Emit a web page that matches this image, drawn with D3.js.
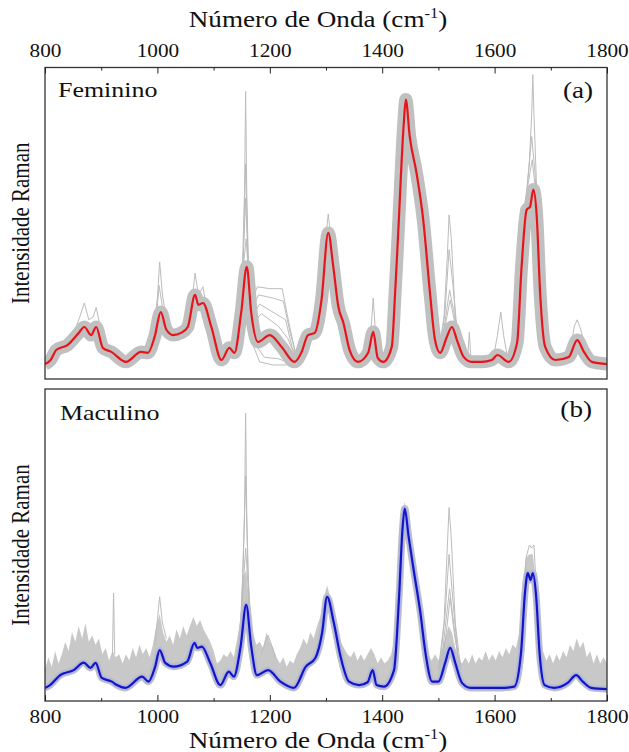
<!DOCTYPE html>
<html>
<head>
<meta charset="utf-8">
<script src="https://cdn.jsdelivr.net/npm/d3@7"></script>
<style>
  body { margin: 0; background: #fff; }
  svg { display: block; }
  text { font-family: "Liberation Serif", "Times New Roman", serif; fill: #111; }
</style>
</head>
<body>
<script>
// ---- dados (intensidade normalizada, 0 = base do painel, 1 = topo) ----

// eixo x
const majorTicks = [800, 1000, 1200, 1400, 1600, 1800];
const minorTicks = [900, 1100, 1300, 1500, 1700];

// Feminino: espectro médio (vermelho)
const wnF = [800, 810, 820, 840, 860, 870, 882, 891, 903, 918, 944, 971, 983, 995, 1006, 1016, 1028, 1042, 1054, 1067,
    1073, 1081, 1096, 1114, 1128, 1137, 1149, 1159, 1167, 1179, 1200, 1221, 1244, 1256, 1268, 1280, 1292, 1304, 1313, 1322,
    1331, 1342, 1357, 1375, 1384, 1392, 1402, 1417, 1423, 1429, 1438, 1442, 1449, 1461, 1473, 1485, 1494, 1503, 1515, 1524,
    1533, 1545, 1559, 1577, 1595, 1605, 1625, 1640, 1648, 1657, 1663, 1669, 1675, 1681, 1690, 1708, 1732, 1747, 1759, 1773, 1800];
const meanF = [0.048, 0.061, 0.093, 0.109, 0.148, 0.167, 0.141, 0.167, 0.100, 0.087, 0.055, 0.087, 0.084, 0.135, 0.215, 0.158, 0.141, 0.148, 0.167, 0.270,
    0.238, 0.244, 0.167, 0.061, 0.100, 0.084, 0.212, 0.360, 0.212, 0.119, 0.141, 0.103, 0.055, 0.084, 0.141, 0.148, 0.254, 0.469, 0.360, 0.232,
    0.180, 0.093, 0.055, 0.084, 0.151, 0.068, 0.055, 0.103, 0.277, 0.489, 0.810, 0.897, 0.778, 0.662, 0.511, 0.277, 0.125, 0.084, 0.135, 0.167,
    0.125, 0.071, 0.055, 0.055, 0.061, 0.077, 0.055, 0.116, 0.360, 0.543, 0.553, 0.608, 0.521, 0.277, 0.103, 0.061, 0.071, 0.125, 0.087, 0.055, 0.048];

// Feminino: espectros individuais que se afastam da faixa cinza
const grayF = [
    [[850, 0.14], [862, 0.20], [870, 0.244], [878, 0.19], [886, 0.20], [891, 0.23], [898, 0.17], [906, 0.12]],
    [[994, 0.16], [1000, 0.26], [1004, 0.376], [1009, 0.27], [1016, 0.19]],
    [[996, 0.15], [1003, 0.30], [1010, 0.22], [1018, 0.17]],
    [[1055, 0.19], [1062, 0.26], [1067, 0.34], [1073, 0.27], [1081, 0.296], [1088, 0.22], [1096, 0.18]],
    [[1143, 0.13], [1150, 0.26], [1155, 0.60], [1157, 0.923], [1159, 0.60], [1163, 0.28], [1170, 0.17]],
    [[1145, 0.15], [1152, 0.35], [1157, 0.69], [1161, 0.40], [1167, 0.20]],
    [[1146, 0.17], [1153, 0.40], [1157, 0.58], [1162, 0.35], [1168, 0.22]],
    [[1147, 0.20], [1154, 0.38], [1158, 0.45], [1163, 0.30], [1169, 0.24]],
    [[1165, 0.24], [1178, 0.296], [1200, 0.29], [1222, 0.29], [1234, 0.18], [1246, 0.08]],
    [[1167, 0.22], [1180, 0.27], [1205, 0.26], [1224, 0.25], [1236, 0.15], [1248, 0.07]],
    [[1168, 0.20], [1182, 0.24], [1210, 0.21], [1228, 0.19], [1240, 0.10], [1250, 0.07]],
    [[1170, 0.18], [1185, 0.21], [1215, 0.17], [1232, 0.13], [1246, 0.07]],
    [[1162, 0.20], [1172, 0.10], [1182, 0.055], [1205, 0.045], [1228, 0.045], [1244, 0.05], [1256, 0.08]],
    [[1164, 0.18], [1175, 0.11], [1190, 0.07], [1215, 0.065], [1238, 0.05]],
    [[1290, 0.28], [1298, 0.42], [1304, 0.53], [1310, 0.43], [1318, 0.30]],
    [[1376, 0.09], [1381, 0.18], [1384, 0.26], [1388, 0.15], [1393, 0.08]],
    [[1500, 0.08], [1510, 0.20], [1516, 0.40], [1519, 0.527], [1523, 0.45], [1530, 0.20], [1540, 0.08]],
    [[1502, 0.08], [1512, 0.22], [1519, 0.415], [1526, 0.30], [1536, 0.10]],
    [[1504, 0.09], [1513, 0.20], [1520, 0.286], [1527, 0.22], [1537, 0.10]],
    [[1505, 0.10], [1514, 0.19], [1521, 0.254], [1528, 0.19], [1538, 0.10]],
    [[1552, 0.06], [1555, 0.15], [1558, 0.06]],
    [[1598, 0.07], [1605, 0.14], [1611, 0.215], [1616, 0.14], [1623, 0.07]],
    [[1655, 0.55], [1662, 0.70], [1666, 0.85], [1668, 0.977], [1670, 0.85], [1674, 0.65], [1680, 0.35]],
    [[1652, 0.50], [1660, 0.66], [1666, 0.778], [1672, 0.66], [1678, 0.45]],
    [[1650, 0.48], [1659, 0.62], [1667, 0.704], [1673, 0.60], [1679, 0.40]],
    [[1735, 0.10], [1742, 0.17], [1747, 0.19], [1753, 0.16], [1762, 0.10]]
];

// Masculino: espectro médio (azul)
const wnM = [800, 809, 827, 851, 869, 881, 890, 901, 919, 928, 943, 973, 984, 996, 1004, 1014, 1029, 1053, 1066, 1071,
    1079, 1094, 1112, 1127, 1136, 1148, 1158, 1167, 1177, 1197, 1219, 1243, 1264, 1281, 1293, 1302, 1314, 1326, 1341, 1359,
    1374, 1383, 1390, 1403, 1421, 1430, 1436, 1440, 1447, 1456, 1468, 1477, 1489, 1500, 1512, 1521, 1530, 1542, 1557, 1611,
    1635, 1647, 1654, 1659, 1664, 1668, 1674, 1680, 1689, 1706, 1730, 1745, 1757, 1772, 1800];
const meanM = [0.042, 0.051, 0.083, 0.099, 0.123, 0.106, 0.122, 0.074, 0.062, 0.051, 0.042, 0.078, 0.062, 0.110, 0.163, 0.122, 0.110, 0.126, 0.186, 0.170,
    0.174, 0.122, 0.051, 0.094, 0.078, 0.174, 0.308, 0.174, 0.083, 0.099, 0.062, 0.042, 0.110, 0.138, 0.218, 0.334, 0.250, 0.142, 0.062, 0.051,
    0.060, 0.099, 0.051, 0.046, 0.099, 0.334, 0.548, 0.617, 0.527, 0.420, 0.282, 0.154, 0.062, 0.062, 0.122, 0.170, 0.122, 0.058, 0.042, 0.042,
    0.046, 0.154, 0.346, 0.410, 0.388, 0.410, 0.334, 0.154, 0.051, 0.042, 0.058, 0.083, 0.062, 0.042, 0.038];

// Masculino: borda superior (ruidosa) do conjunto de espectros cinza
const cloudM = [
    [800, 0.10], [806, 0.14], [812, 0.11], [818, 0.16], [824, 0.12], [830, 0.15], [836, 0.19], [842, 0.16], [848, 0.22], [854, 0.19],
    [860, 0.24], [866, 0.20], [872, 0.25], [878, 0.19], [884, 0.21], [890, 0.18], [896, 0.20], [902, 0.15], [908, 0.17], [914, 0.13],
    [920, 0.16], [926, 0.14], [932, 0.15], [938, 0.12], [944, 0.15], [950, 0.13], [956, 0.17], [962, 0.14], [968, 0.18], [974, 0.15],
    [980, 0.17], [986, 0.14], [992, 0.18], [998, 0.24], [1004, 0.28], [1010, 0.22], [1016, 0.19], [1022, 0.21], [1028, 0.18], [1034, 0.23],
    [1040, 0.20], [1046, 0.24], [1052, 0.21], [1058, 0.24], [1064, 0.27], [1070, 0.24], [1076, 0.26], [1082, 0.23], [1088, 0.21], [1094, 0.19],
    [1100, 0.16], [1106, 0.12], [1112, 0.13], [1118, 0.15], [1124, 0.14], [1130, 0.16], [1136, 0.14], [1142, 0.20], [1148, 0.26], [1153, 0.40],
    [1158, 0.42], [1164, 0.30], [1170, 0.22], [1176, 0.18], [1182, 0.19], [1188, 0.17], [1194, 0.22], [1200, 0.19], [1206, 0.17], [1212, 0.14],
    [1218, 0.12], [1224, 0.14], [1230, 0.11], [1236, 0.13], [1242, 0.12], [1248, 0.15], [1254, 0.17], [1260, 0.20], [1266, 0.18], [1272, 0.22],
    [1278, 0.20], [1284, 0.24], [1290, 0.27], [1296, 0.33], [1302, 0.37], [1308, 0.33], [1314, 0.28], [1320, 0.22], [1326, 0.19], [1332, 0.17],
    [1338, 0.15], [1344, 0.14], [1350, 0.16], [1356, 0.13], [1362, 0.15], [1368, 0.13], [1374, 0.15], [1380, 0.17], [1386, 0.15], [1392, 0.12],
    [1398, 0.14], [1404, 0.12], [1410, 0.13], [1416, 0.15], [1422, 0.20], [1428, 0.36], [1434, 0.55], [1440, 0.64], [1446, 0.57], [1452, 0.48],
    [1458, 0.42], [1464, 0.33], [1470, 0.26], [1476, 0.19], [1482, 0.15], [1488, 0.13], [1494, 0.15], [1500, 0.13], [1506, 0.16], [1512, 0.20],
    [1518, 0.24], [1524, 0.22], [1530, 0.17], [1536, 0.14], [1542, 0.12], [1548, 0.14], [1554, 0.12], [1560, 0.15], [1566, 0.12], [1572, 0.14],
    [1578, 0.13], [1584, 0.16], [1590, 0.13], [1596, 0.15], [1602, 0.13], [1608, 0.16], [1614, 0.14], [1620, 0.17], [1626, 0.15], [1632, 0.18],
    [1638, 0.17], [1644, 0.22], [1650, 0.38], [1656, 0.46], [1662, 0.47], [1668, 0.47], [1674, 0.38], [1680, 0.22], [1686, 0.16], [1692, 0.13],
    [1698, 0.15], [1704, 0.12], [1710, 0.15], [1716, 0.13], [1722, 0.16], [1728, 0.14], [1734, 0.18], [1740, 0.16], [1746, 0.20], [1752, 0.17],
    [1758, 0.19], [1764, 0.14], [1770, 0.16], [1776, 0.12], [1782, 0.15], [1788, 0.12], [1794, 0.14], [1800, 0.12]
];

// Masculino: espectros individuais fora da nuvem
const grayM = [
    [[920, 0.15], [922, 0.346], [924, 0.15]],
    [[995, 0.18], [1000, 0.26], [1004, 0.334], [1009, 0.25], [1016, 0.20]],
    [[1143, 0.15], [1150, 0.30], [1155, 0.60], [1157, 0.923], [1159, 0.60], [1163, 0.30], [1170, 0.18]],
    [[1146, 0.18], [1152, 0.40], [1157, 0.72], [1161, 0.42], [1167, 0.22]],
    [[1147, 0.20], [1153, 0.38], [1157, 0.49], [1162, 0.35], [1168, 0.22]],
    [[1185, 0.15], [1192, 0.19], [1197, 0.21], [1203, 0.18], [1210, 0.14]],
    [[1500, 0.10], [1510, 0.25], [1516, 0.50], [1519, 0.62], [1523, 0.52], [1530, 0.25], [1540, 0.10]],
    [[1502, 0.10], [1512, 0.28], [1519, 0.47], [1526, 0.32], [1536, 0.12]],
    [[1504, 0.10], [1513, 0.25], [1520, 0.36], [1527, 0.25], [1537, 0.11]],
    [[1505, 0.10], [1514, 0.22], [1521, 0.33], [1528, 0.22], [1538, 0.11]],
    [[1650, 0.30], [1656, 0.46], [1662, 0.50], [1666, 0.49], [1670, 0.50], [1676, 0.30]]
];

// ---- layout ----
const width = 629;
const height = 752;
const left = 45, right = 607;
const stretch = 1.18;   // a figura original está esticada na horizontal

const svg = d3.select('body').append('svg')
    .attr('width', width)
    .attr('height', height);
const defs = svg.append('defs');

const x = d3.scaleLinear().domain([800, 1800]).range([left, right]);

// texto esticado na horizontal
function stext(str, tx, ty, size, anchor) {
    return svg.append('g')
        .attr('transform', `translate(${tx},${ty}) scale(${stretch},1)`)
        .append('text')
        .attr('font-size', size)
        .attr('text-anchor', anchor)
        .text(str);
}

function axisTitle(ty) {
    const t = stext('Número de Onda (cm', 318, ty, 23, 'middle');
    t.append('tspan').attr('font-size', 14).attr('dy', -9).text('-1');
    t.append('tspan').attr('dy', 9).text(')');
}

function yTitle(cy) {
    svg.append('g')
        .attr('transform', `translate(29,${cy}) rotate(-90) scale(1,${stretch})`)
        .append('text')
        .attr('font-size', 21)
        .attr('text-anchor', 'middle')
        .text('Intensidade Raman');
}

function drawPanel(id, top, bottom, wn, mean, opt) {
    const y = d3.scaleLinear().domain([0, 1]).range([bottom, top]);
    const pts = wn.map((w, i) => [w, mean[i]]);
    const line = d3.line().x(d => x(d[0])).y(d => y(d[1])).curve(d3.curveMonotoneX);
    const thin = d3.line().x(d => x(d[0])).y(d => y(d[1]));

    defs.append('clipPath').attr('id', 'clip-' + id)
        .append('rect')
        .attr('x', left).attr('y', top)
        .attr('width', right - left).attr('height', bottom - top);

    const plot = svg.append('g').attr('clip-path', `url(#clip-${id})`);

    // nuvem cinza acima do espectro médio
    if (opt.cloud) {
        defs.append('clipPath').attr('id', 'above-' + id)
            .append('path')
            .attr('d', d3.area().x(d => x(d[0])).y0(top - 5).y1(d => y(d[1])).curve(d3.curveMonotoneX)(pts));
        plot.append('g').attr('clip-path', `url(#above-${id})`)
            .append('path')
            .datum(opt.cloud)
            .attr('d', d3.area().x(d => x(d[0])).y0(bottom).y1(d => y(d[1])))
            .attr('fill', '#c8c8c8');
    }

    plot.append('g').selectAll('path')
        .data(opt.outliers).enter()
        .append('path')
        .attr('d', thin)
        .attr('fill', 'none')
        .attr('stroke', '#bcbcbc')
        .attr('stroke-width', 1);

    // faixa cinza dos espectros
    plot.append('path').datum(pts)
        .attr('d', line)
        .attr('fill', 'none')
        .attr('stroke', '#c0c0c0')
        .attr('stroke-width', opt.band)
        .attr('stroke-linejoin', 'round');

    if (opt.halo) {
        plot.append('path').datum(pts)
            .attr('d', line)
            .attr('fill', 'none')
            .attr('stroke', opt.halo)
            .attr('stroke-width', 4.5)
            .attr('stroke-linejoin', 'round');
    }

    plot.append('path').datum(pts)
        .attr('d', line)
        .attr('fill', 'none')
        .attr('stroke', opt.color)
        .attr('stroke-width', 2.2)
        .attr('stroke-linejoin', 'round');

    svg.append('rect')
        .attr('x', left).attr('y', top)
        .attr('width', right - left).attr('height', bottom - top)
        .attr('fill', 'none')
        .attr('stroke', '#333')
        .attr('stroke-width', 1.3);
}

function drawTicks(axisFn, ty, pad) {
    const g = svg.append('g')
        .attr('transform', `translate(0,${ty})`)
        .attr('color', '#222');
    g.call(axisFn(x).tickValues(majorTicks).tickSizeInner(-6).tickSizeOuter(0).tickPadding(pad).tickFormat(d3.format('d')));
    g.attr('font-size', 18).attr('font-family', null);
    g.select('.domain').remove();
    g.selectAll('text').attr('transform', `scale(${stretch},1)`).attr('fill', '#111');

    const m = svg.append('g')
        .attr('transform', `translate(0,${ty})`)
        .attr('color', '#222');
    m.call(axisFn(x).tickValues(minorTicks).tickSizeInner(-3).tickSizeOuter(0).tickFormat(''));
    m.select('.domain').remove();
}

const topA = 67.5, botA = 379;
const topB = 389, botB = 701;

drawPanel('a', topA, botA, wnF, meanF, { outliers: grayF, band: 13, color: '#e8141a' });
drawPanel('b', topB, botB, wnM, meanM, { outliers: grayM, cloud: cloudM, band: 7, halo: '#a9b3ea', color: '#1414c4' });

drawTicks(d3.axisTop, topA, 10.5);
drawTicks(d3.axisBottom, botB, 9);

axisTitle(27);
axisTitle(748);
yTitle((topA + botA) / 2);
yTitle((topB + botB) / 2);

stext('Feminino', 58, 97, 22, 'start');
stext('(a)', 593, 98, 23, 'end');
stext('Maculino', 60, 420, 22, 'start');
stext('(b)', 592, 417, 23, 'end');
</script>
</body>
</html>
